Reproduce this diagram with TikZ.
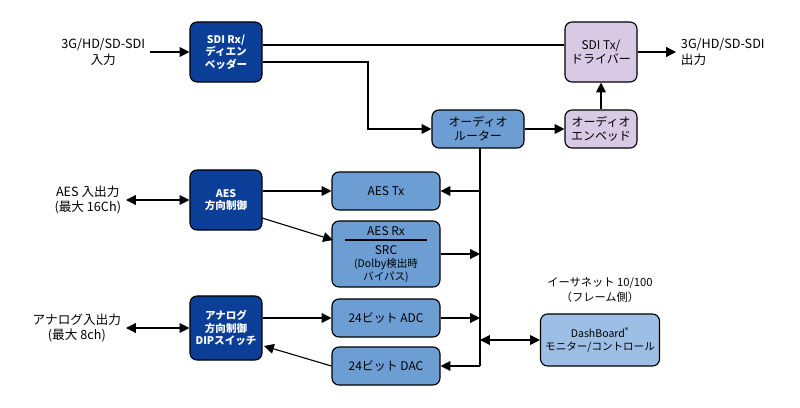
\documentclass[tikz,border=0pt]{standalone}
\usepackage{fontspec}
\setmainfont{Noto Sans CJK JP}
\usetikzlibrary{arrows.meta}
\definecolor{darkblk}{HTML}{0B3F97}
\definecolor{midblk}{HTML}{6C9DD3}
\definecolor{lightblk}{HTML}{9DBFE6}
\definecolor{purpblk}{HTML}{D8C9E5}
\tikzset{
  blk/.style={draw=black, line width=0.8pt, rounded corners=5pt, align=center, font=\fontsize{7.5}{9}\selectfont},
  ctrl/.style={blk, fill=darkblk, text=white, font=\bfseries\fontsize{7.5}{9}\selectfont},
  audio/.style={blk, fill=midblk, font=\fontsize{8.5}{10}\selectfont},
  embed/.style={blk, fill=purpblk, font=\fontsize{8.5}{10}\selectfont},
  lbl/.style={font=\fontsize{9}{11}\selectfont, align=center},
  conn/.style={line width=0.8pt, -{Triangle[length=7pt,width=7pt]}},
  both/.style={line width=0.8pt, {Triangle[length=7pt,width=7pt]}-{Triangle[length=7pt,width=7pt]}}
}
\begin{document}
\begin{tikzpicture}[x=0.025cm, y=-0.025cm]
    \useasboundingbox (0,0) rectangle (800,407);
    % Blocks
    \node[ctrl, minimum width=1.8cm, minimum height=1.5cm] (rx) at (226,52) {SDI Rx/\\ディエン\\ベッダー};
    \node[embed, minimum width=1.8cm, minimum height=1.5cm] (tx) at (601,52) {SDI Tx/\\ドライバー};
    \node[audio, minimum width=2.3cm, minimum height=0.95cm] (router) at (478,129) {オーディオ\\ルーター};
    \node[embed, minimum width=1.8cm, minimum height=0.95cm] (emb) at (601,129) {オーディオ\\エンベッド};
    \node[ctrl, minimum width=1.8cm, minimum height=1.5cm] (aes) at (226,200) {AES\\方向制御};
    \node[audio, minimum width=2.7cm, minimum height=0.95cm] (aestx) at (386,191) {AES Tx};
    \node[audio, minimum width=2.7cm, minimum height=1.65cm] (aesrx) at (386,254) {};
    \node[ctrl, minimum width=1.8cm, minimum height=1.6cm] (ana) at (226,328) {アナログ\\方向制御\\DIPスイッチ};
    \node[audio, minimum width=2.7cm, minimum height=0.95cm] (adc) at (386,318) {24ビット ADC};
    \node[audio, minimum width=2.7cm, minimum height=0.95cm] (dac) at (386,366) {24ビット DAC};
    \node[blk, fill=lightblk, minimum width=2.85cm, minimum height=1.3cm] (dash) at (600,340) {DashBoard\textsuperscript{®}\\モニター/コントロール};
    % AES Rx text
    \node[font=\fontsize{8.5}{10}\selectfont] (rxtop) at (386,231) {AES Rx};
    \draw[line width=0.8pt] (345,240) -- (427,240);
    \node[align=center, font=\fontsize{8.5}{10}\selectfont] (rxbot) at (386,264) {SRC\\[-1pt]{\fontsize{7.5}{9}\selectfont (Dolby検出時}\\[-1pt]{\fontsize{7.5}{9}\selectfont バイパス)}};
    % Outside labels
    \node[lbl, anchor=east] (sdiin) at (150,52) {3G/HD/SD-SDI\\入力};
    \node[lbl, anchor=west, align=left] (sdiout) at (676,52) {3G/HD/SD-SDI\\出力};
    \node[lbl, anchor=east] (aesio) at (126,200) {AES 入出力\\(最大 16Ch)};
    \node[lbl, anchor=east] (anaio) at (126,328) {アナログ入出力\\(最大 8ch)};
    \node[lbl, font=\fontsize{8}{11}\selectfont] (eth) at (600,290) {イーサネット 10/100\\（フレーム側）};
    \coordinate (bustop) at (480,148);
    \coordinate (busbot) at (480,366);
    % Connectors
    \draw[conn] (sdiin.east) -- (rx.west);
    \draw[conn] (tx.east) -- (sdiout.west);
    \draw[line width=0.8pt] (rx.east |- 0,45) -- (tx.west |- 0,45);
    \draw[conn] (rx.east |- 0,62) -| (368,100) |- (router.west);
    \draw[conn] (router) -- (emb);
    \draw[conn] (emb) -- (tx);
    \draw[both] (aesio.east) -- (aes.west);
    \draw[both] (anaio.east) -- (ana.west);
    \draw[line width=0.8pt] (bustop) -- (busbot);
    \draw[conn] (480,191) -- (aestx.east);
    \draw[conn] (aesrx.east) -- (480,254);
    \draw[conn] (adc.east) -- (480,318);
    \draw[conn] (busbot) -- (dac.east);
    \draw[both] (480,340) -- (dash.west);
    \draw[conn] (aes.east |- aestx) -- (aestx.west);
    \draw[conn] (262,218) -- (333,240);
    \draw[conn] (ana.east |- adc) -- (adc.west);
    \draw[conn] (dac.west) -- (264,346);
\end{tikzpicture}
\end{document}
